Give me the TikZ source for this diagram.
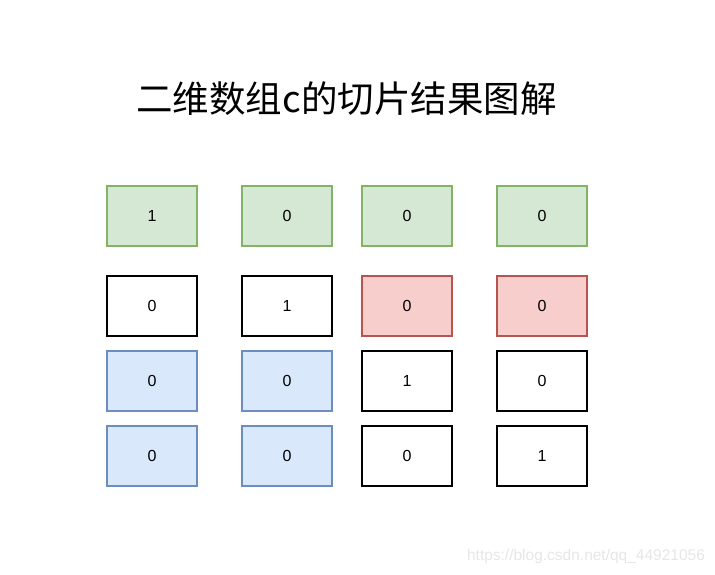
\documentclass[tikz,border=0pt]{standalone}
\usepackage{fontspec}
\setmainfont{Liberation Sans}
\newfontfamily\cjk{Noto Sans CJK SC}
\definecolor{greenfill}{HTML}{D5E8D4}
\definecolor{greenline}{HTML}{82B366}
\definecolor{redfill}{HTML}{F8CECC}
\definecolor{redline}{HTML}{B85450}
\definecolor{bluefill}{HTML}{DAE8FC}
\definecolor{blueline}{HTML}{6C8EBF}
\definecolor{markgray}{HTML}{E6E6E6}
\tikzset{
    cell/.style={draw=black, line width=1.2pt, minimum width=90pt, minimum height=60pt,
        inner sep=0pt, font=\fontsize{16}{16}\selectfont},
    rowcell/.style={cell, draw=greenline, fill=greenfill},
    colcell/.style={cell, draw=redline, fill=redfill},
    restcell/.style={cell, draw=blueline, fill=bluefill}
}
\begin{document}
\begin{tikzpicture}[x=1pt, y=-1pt]
    \useasboundingbox (0, 0) rectangle (715, 575);

    % Title
    \node[font=\cjk\fontsize{36.5}{36.5}\selectfont] (title) at (346.5, 99) {二维数组c的切片结果图解};

    % Row 1
    \node[rowcell] (a11) at (152, 216) {1};
    \node[rowcell] (a12) at (287, 216) {0};
    \node[rowcell] (a13) at (407, 216) {0};
    \node[rowcell] (a14) at (542, 216) {0};

    % Row 2
    \node[cell] (a21) at (152, 306) {0};
    \node[cell] (a22) at (287, 306) {1};
    \node[colcell] (a23) at (407, 306) {0};
    \node[colcell] (a24) at (542, 306) {0};

    % Row 3
    \node[restcell] (a31) at (152, 381) {0};
    \node[restcell] (a32) at (287, 381) {0};
    \node[cell] (a33) at (407, 381) {1};
    \node[cell] (a34) at (542, 381) {0};

    % Row 4
    \node[restcell] (a41) at (152, 456) {0};
    \node[restcell] (a42) at (287, 456) {0};
    \node[cell] (a43) at (407, 456) {0};
    \node[cell] (a44) at (542, 456) {1};

    % Watermark
    \node[text=markgray, font=\fontsize{15.5}{15.5}\selectfont] (mark) at (586, 556) {https://blog.csdn.net/qq\_44921056};
\end{tikzpicture}
\end{document}
